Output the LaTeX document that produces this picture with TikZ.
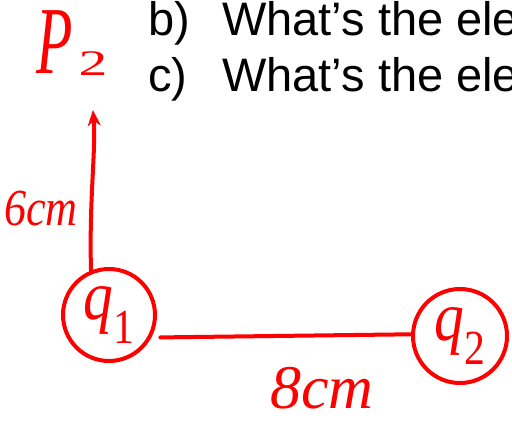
\documentclass[tikz,border=0pt]{standalone}
\usepackage{fontspec}
\setmainfont{Liberation Sans}
\newfontfamily\handfont{Liberation Serif}
\usetikzlibrary{arrows.meta}
\newcommand{\hsub}[2]{{\handfont\itshape #1}\textsubscript{\handfont #2}}
\begin{document}
\begin{tikzpicture}[x=1pt,y=-1pt,
  ink/.style={draw=red, line width=4pt, line cap=round},
  charge/.style={circle, draw=red, line width=4pt, text=red, minimum size=92pt, inner sep=0pt, font=\fontsize{70}{70}\selectfont},
  hand/.style={text=red, inner sep=0pt},
  question/.style={anchor=base west, inner sep=0pt, font=\fontsize{47}{47}\selectfont}]
\useasboundingbox (0,0) rectangle (512,422);
\clip (0,0) rectangle (512,422);
\node[question] (b) at (148,36) {b)};
\node[question] (bq) at (222,36) {What’s the ele};
\node[question] (c) at (148,92) {c)};
\node[question] (cq) at (222,92) {What’s the ele};
\node[charge] (q1) at (109,315) {\scalebox{0.85}[1]{\hsub{q}{1}}};
\node[charge, minimum size=94pt] (q2) at (460,336) {\scalebox{0.85}[1]{\hsub{q}{2}}};
\node[hand, anchor=base west] (P2) at (36,74) {\scalebox{0.62}[1]{\fontsize{96}{96}\selectfont\handfont\itshape P}\hspace{6pt}\raisebox{-2pt}{\scalebox{1.6}[1]{\fontsize{36}{36}\selectfont\handfont 2}}};
\coordinate (tip) at (93,110);
\draw[ink, -{Stealth[length=16pt,width=13pt]}] (q1.112) .. controls (89,200) and (96,150) .. (tip);
\node[hand, font=\fontsize{52}{52}\selectfont\handfont\itshape] (d1) at (41,209) {\scalebox{0.85}[1]{6cm}};
\draw[ink, shorten <=9pt] (q1.-28) -- (q2.178);
\node[hand, font=\fontsize{62}{62}\selectfont\handfont\itshape] (d2) at (322,388) {8cm};
\end{tikzpicture}
\end{document}
